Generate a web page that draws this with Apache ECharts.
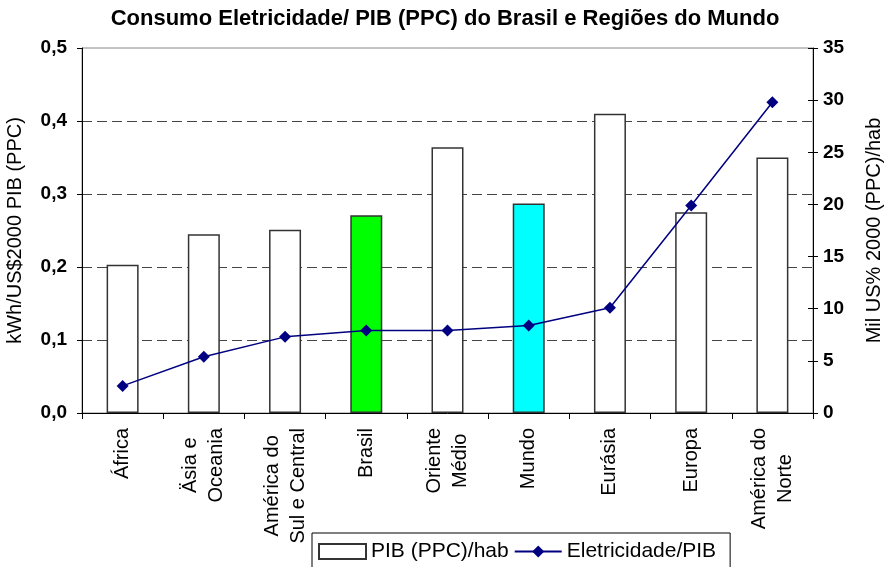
<!DOCTYPE html>
<html>
<head>
<meta charset="utf-8">
<script src="https://cdn.jsdelivr.net/npm/echarts@6/dist/echarts.min.js"></script>
<style>
  html, body { margin: 0; padding: 0; background: #fff; }
  #chart { width: 890px; height: 567px; }
</style>
</head>
<body>
<div id="chart"></div>
<script>
// categorias (eixo X)
const categories = ['África', 'Äsia e\nOceania', 'América do\nSul e Central', 'Brasil', 'Oriente\nMédio', 'Mundo', 'Eurásia', 'Europa', 'América do\nNorte']
// barras - eixo esquerdo (kWh/US$2000)
const barValues = [0.203, 0.245, 0.251, 0.271, 0.364, 0.287, 0.410, 0.275, 0.350]
// linha - eixo direito (mil US$ 2000/hab)
const lineValues = [2.6, 5.4, 7.3, 7.9, 7.9, 8.4, 10.1, 19.9, 29.8]
// ticks dos eixos
const leftTicks = [0, 0.1, 0.2, 0.3, 0.4, 0.5]
const rightTicks = [0, 5, 10, 15, 20, 25, 30, 35]

const font = 'Liberation Sans, Arial, sans-serif'
const highlight = { 'Brasil': '#00ff00', 'Mundo': '#00ffff' }

const chart = echarts.init(document.getElementById('chart'))
chart.setOption({
  animation: false,
  textStyle: { fontFamily: font, color: '#000' },
  title: {
    text: 'Consumo Eletricidade/ PIB (PPC) do Brasil e Regiões do Mundo',
    left: 'center',
    top: 3,
    textStyle: { fontFamily: font, fontSize: 22, fontWeight: 'bold', color: '#000' }
  },
  legend: {
    left: 312,
    top: 533,
    padding: [8, 14, 20, 6],
    borderColor: '#000',
    borderWidth: 1,
    itemWidth: 47,
    itemHeight: 15,
    itemGap: 5,
    textStyle: { fontFamily: font, fontSize: 21, color: '#000' },
    data: [{ name: 'PIB (PPC)/hab', icon: 'rect' }, { name: 'Eletricidade/PIB' }]
  },
  grid: {
    left: 82,
    right: 77,
    top: 48,
    bottom: 154,
    show: true,
    borderColor: '#888',
    borderWidth: 1,
    outerBoundsMode: 'none'
  },
  xAxis: {
    type: 'category',
    data: categories,
    axisLine: { lineStyle: { color: '#000', width: 1 } },
    axisTick: { show: true, length: 6, lineStyle: { color: '#000' } },
    axisLabel: {
      rotate: 90,
      margin: 15,
      interval: 0,
      fontSize: 20,
      lineHeight: 26,
      color: '#000',
      formatter: v => v.split('\n').map(s => '{c|' + s + '}').join('\n'),
      rich: { c: { align: 'center', fontSize: 20, lineHeight: 26, fontFamily: font, color: '#000' } }
    }
  },
  yAxis: [
    {
      type: 'value',
      position: 'left',
      min: leftTicks[0],
      max: leftTicks[leftTicks.length - 1],
      interval: 0.1,
      name: 'kWh/US$2000 PIB (PPC)',
      nameLocation: 'middle',
      nameGap: 57,
      nameRotate: 90,
      nameTextStyle: { fontSize: 20, fontFamily: font, color: '#000' },
      axisLine: { show: true, lineStyle: { color: '#000', width: 1 } },
      axisTick: { show: true, length: 5, lineStyle: { color: '#000' } },
      axisLabel: {
        margin: 15,
        fontSize: 19,
        fontWeight: 'bold',
        color: '#000',
        formatter: v => v.toFixed(1).replace('.', ',')
      },
      splitLine: {
        show: true,
        showMinLine: false,
        showMaxLine: false,
        lineStyle: { color: '#444', type: [10, 5], width: 1 }
      }
    },
    {
      type: 'value',
      position: 'right',
      min: rightTicks[0],
      max: rightTicks[rightTicks.length - 1],
      interval: 5,
      name: 'Mil US% 2000 (PPC)/hab',
      nameLocation: 'middle',
      nameGap: 51,
      nameRotate: 90,
      nameTextStyle: { fontSize: 20, fontFamily: font, color: '#000' },
      axisLine: { show: true, lineStyle: { color: '#000', width: 1 } },
      axisTick: { show: true, length: 5, lineStyle: { color: '#000' } },
      axisLabel: { margin: 10, fontSize: 19, fontWeight: 'bold', color: '#000' },
      splitLine: { show: false }
    },
    {
      // ticks internos do eixo direito (cruzados)
      type: 'value',
      position: 'right',
      min: rightTicks[0],
      max: rightTicks[rightTicks.length - 1],
      interval: 5,
      axisLine: { show: false },
      axisTick: { show: true, inside: true, length: 5, lineStyle: { color: '#000' } },
      axisLabel: { show: false },
      splitLine: { show: false }
    }
  ],
  series: [
    {
      name: 'PIB (PPC)/hab',
      type: 'bar',
      yAxisIndex: 0,
      barWidth: 32,
      itemStyle: { color: '#fff', borderColor: '#333', borderWidth: 1.5 },
      data: barValues.map((v, i) => ({
        value: v,
        itemStyle: { color: highlight[categories[i]] || '#fff' }
      }))
    },
    {
      name: 'Eletricidade/PIB',
      type: 'line',
      yAxisIndex: 1,
      symbol: 'diamond',
      symbolSize: 12,
      lineStyle: { color: '#000080', width: 1.5 },
      itemStyle: { color: '#000080' },
      data: lineValues
    }
  ]
})
</script>
</body>
</html>
